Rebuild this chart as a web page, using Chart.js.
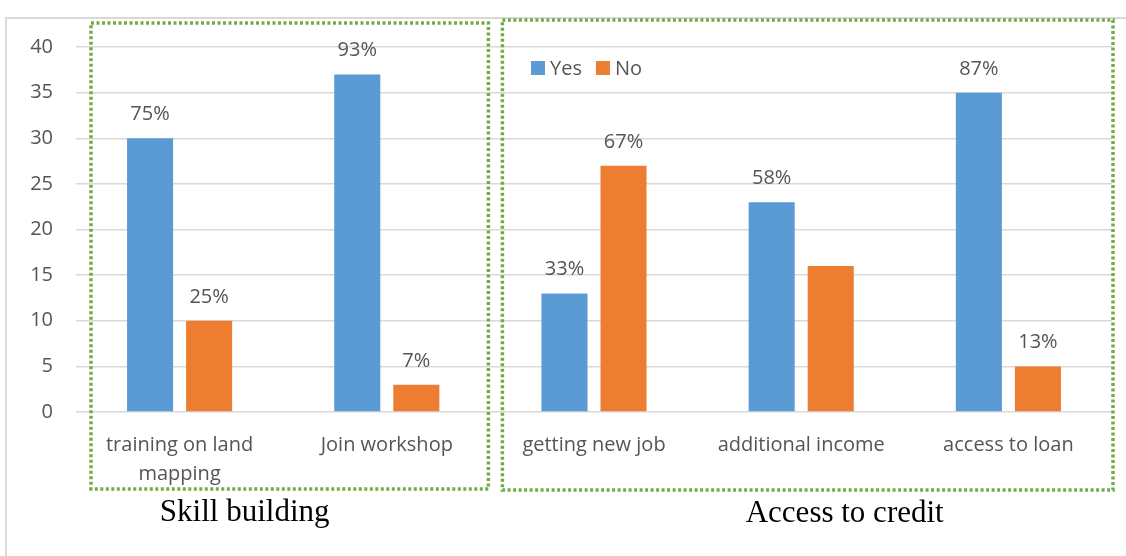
<!DOCTYPE html>
<html>
<head>
<meta charset="utf-8">
<script src="https://cdn.jsdelivr.net/npm/chart.js@4/dist/chart.umd.min.js"></script>
<style>
  html, body { margin: 0; padding: 0; background: #fff; overflow: hidden; }
  #wrap { position: relative; width: 1126px; height: 556px; }
  #frame { position: absolute; left: 5px; top: 17px; width: 1200px; height: 600px; border: 2px solid #d9d9d9; box-sizing: border-box; }
  #myChart { position: absolute; left: 0; top: 0; }
</style>
</head>
<body>
<div id="wrap">
  <div id="frame"></div>
  <canvas id="myChart" width="1126" height="556"></canvas>
</div>
<script>
const categories = [["training on land", "mapping"], "Join workshop", "getting new job", "additional income", "access to loan"];
const yesValues = [30, 37, 13, 23, 35];
const noValues = [10, 3, 27, 16, 5];
const yesLabels = ["75%", "93%", "33%", "58%", "87%"];
const noLabels = ["25%", "7%", "67%", "", "13%"];
const yMin = 0, yMax = 40, yStep = 5;
const groups = [
  { name: "Skill building", first: 0, last: 1 },
  { name: "Access to credit", first: 2, last: 4 }
];

const textGray = "#555555";
const sansFont = "'Open Sans', sans-serif";

// percent labels above each bar
const barLabels = {
  id: "barLabels",
  afterDatasetsDraw(chart) {
    const ctx = chart.ctx;
    const texts = [yesLabels, noLabels];
    ctx.save();
    ctx.font = "20px " + sansFont;
    ctx.fillStyle = textGray;
    ctx.textAlign = "center";
    ctx.textBaseline = "alphabetic";
    chart.data.datasets.forEach((ds, i) => {
      chart.getDatasetMeta(i).data.forEach((bar, j) => {
        if (texts[i][j]) ctx.fillText(texts[i][j], bar.x, bar.y - 18);
      });
    });
    ctx.restore();
  }
};

// legend in the top of the second group
const innerLegend = {
  id: "innerLegend",
  afterDraw(chart) {
    const ctx = chart.ctx;
    const area = chart.chartArea;
    let x = area.left + 455;
    const y = area.top + 21;
    ctx.save();
    ctx.font = "20px " + sansFont;
    ctx.textBaseline = "middle";
    chart.data.datasets.forEach(ds => {
      ctx.fillStyle = ds.backgroundColor;
      ctx.fillRect(x, y - 7, 14, 14);
      ctx.fillStyle = textGray;
      ctx.fillText(ds.label, x + 19, y + 1);
      x += 19 + ctx.measureText(ds.label).width + 14;
    });
    ctx.restore();
  }
};

// dotted boxes around the category groups with a caption below
const groupBoxes = {
  id: "groupBoxes",
  afterDraw(chart) {
    const ctx = chart.ctx;
    const xs = chart.scales.x;
    const area = chart.chartArea;
    const half = (xs.getPixelForValue(1) - xs.getPixelForValue(0)) / 2;
    const inset = [[15, 2, 24, 0], [12, -1, 27, 1]];
    const shift = [-45, 37];
    ctx.save();
    groups.forEach((g, i) => {
      const left = xs.getPixelForValue(g.first) - half + inset[i][0];
      const right = xs.getPixelForValue(g.last) + half - inset[i][1];
      const top = area.top - inset[i][2];
      const bottom = area.bottom + 77 + inset[i][3];
      ctx.strokeStyle = "#70ad47";
      ctx.lineWidth = 3.5;
      ctx.setLineDash([3, 2.5]);
      ctx.strokeRect(left, top, right - left, bottom - top);
      ctx.setLineDash([]);
      ctx.fillStyle = "#000";
      ctx.font = "31px 'Liberation Serif', 'Times New Roman', serif";
      ctx.textAlign = "center";
      ctx.textBaseline = "alphabetic";
      ctx.fillText(g.name, (left + right) / 2 + shift[i], bottom + 32);
    });
    ctx.restore();
  }
};

new Chart(document.getElementById("myChart").getContext("2d"), {
  type: "bar",
  data: {
    labels: categories,
    datasets: [
      { label: "Yes", data: yesValues, backgroundColor: "#5b9bd5" },
      { label: "No", data: noValues, backgroundColor: "#ed7d31" }
    ]
  },
  options: {
    responsive: false,
    animation: false,
    layout: { padding: { left: 0, top: 47, right: 14, bottom: 0 } },
    datasets: { bar: { categoryPercentage: 0.57, barPercentage: 0.78 } },
    plugins: { legend: { display: false }, tooltip: { enabled: false } },
    scales: {
      x: {
        grid: { display: false },
        border: { display: false },
        ticks: {
          color: textGray,
          padding: 11,
          maxRotation: 0,
          font: { family: sansFont, size: 20, lineHeight: 1.45 }
        },
        afterFit(scale) { scale.height = 144; }
      },
      y: {
        min: yMin,
        max: yMax,
        grid: { color: "#d9d9d9", lineWidth: 1.5, drawTicks: false },
        border: { display: false },
        ticks: {
          stepSize: yStep,
          color: textGray,
          padding: 23,
          font: { family: sansFont, size: 20 }
        },
        afterFit(scale) { scale.width = 76; }
      }
    }
  },
  plugins: [barLabels, innerLegend, groupBoxes]
});
</script>
</body>
</html>
